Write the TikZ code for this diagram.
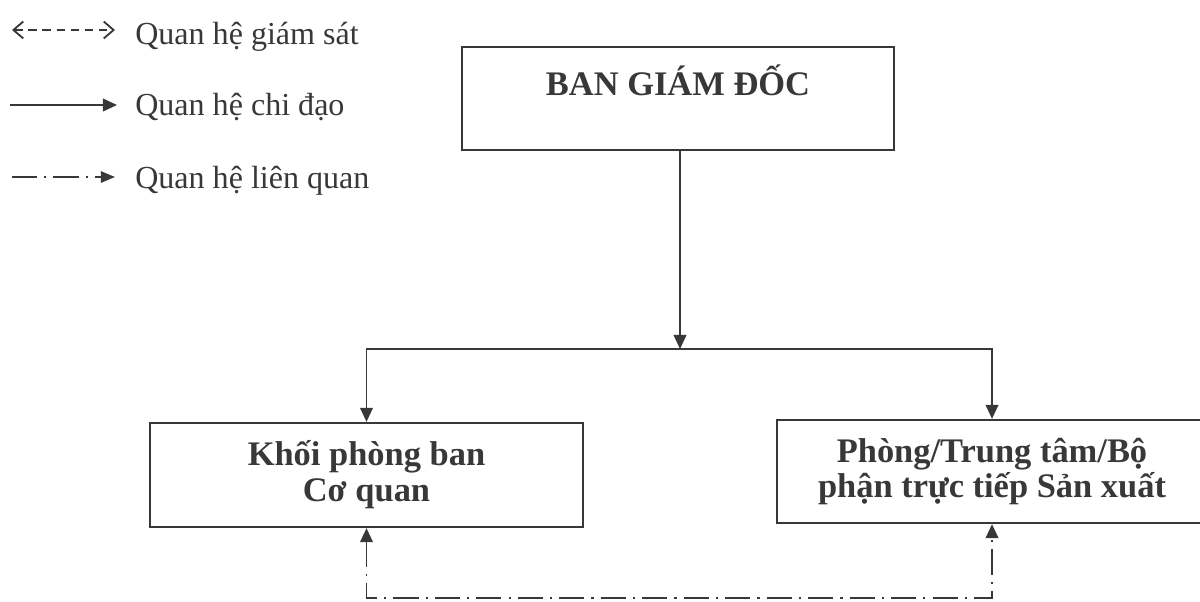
\documentclass[tikz,border=0pt]{standalone}
\usepackage{fontspec}
\setmainfont{Liberation Serif}
\usepackage{tikz}
\usetikzlibrary{arrows.meta}
\usetikzlibrary{positioning}
\colorlet{ink}{black!78}
\tikzset{donvi/.style={rectangle,draw=ink,line width=1.6pt,text=ink,align=center,font=\fontsize{24.5}{25.5}\selectfont\bfseries}}
\tikzset{chidao/.style={draw=ink,line width=1.3pt,-{Triangle[length=10pt,width=9pt]}}}
\tikzset{lienquan/.style={draw=ink,line width=1.3pt,dash pattern=on 18pt off 5pt on 1.5pt off 5pt}}
\tikzset{giamsat/.style={draw=ink,line width=1.3pt,dash pattern=on 6pt off 4pt,{Straight Barb[length=7pt,width=12pt]}-{Straight Barb[length=7pt,width=12pt]}}}
\tikzset{chuthich/.style={anchor=base west,inner xsep=0pt,text=ink,font=\fontsize{22.8}{26}\selectfont}}

\begin{document}
\begin{tikzpicture}[x=0.025cm,y=0.025cm]
\useasboundingbox (0,0) rectangle (1200,601);

% chu thich
\coordinate (gs1) at (12,571);
\coordinate (gs2) at (115,571);
\coordinate (cd1) at (10,496);
\coordinate (cd2) at (117,496);
\coordinate (lq1) at (12,424);
\coordinate (lq2) at (115,424);
\node[chuthich] (tgs) at (135,556) {Quan hệ giám sát};
\node[chuthich] (tcd) at (135,486) {Quan hệ chi đạo};
\node[chuthich] (tlq) at (135,413) {Quan hệ liên quan};

% cac khoi
\node[donvi, minimum width=10.8cm, minimum height=2.575cm] (bgd) at (678,502.5) {BAN GIÁM ĐỐC\\[0pt]\mbox{}};
\node[donvi, minimum width=10.825cm, minimum height=2.6cm] (kpb) at (366.5,126) {Khối phòng ban\\Cơ quan};
\node[donvi, minimum width=10.75cm, minimum height=2.575cm] (sx) at (992,129.5) {Phòng/Trung tâm/Bộ\\phận trực tiếp Sản xuất};
\coordinate (nhanh) at (680,252);
\coordinate (day) at (680,3);

\draw[giamsat] (gs1) -- (gs2);
\draw[chidao] (cd1) -- (cd2);
\draw[lienquan, -{Triangle[length=10pt,width=8pt]}] (lq1) -- (lq2);

\draw[chidao] (bgd.south -| nhanh) -- (nhanh);
\draw[chidao] (nhanh) -| (kpb.north);
\draw[chidao] (nhanh) -| (sx.north);
\draw[lienquan, {Triangle[length=10pt,width=9pt]}-{Triangle[length=10pt,width=9pt]}] (kpb.south) |- (day) -| (sx.south);
\end{tikzpicture}
\end{document}
